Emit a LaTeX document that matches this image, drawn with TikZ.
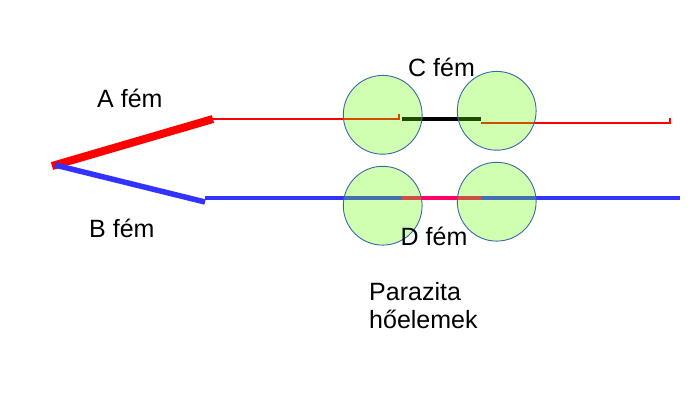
\documentclass[tikz,border=0pt]{standalone}
\usepackage{fontspec}
\setmainfont{Liberation Sans}
\definecolor{wirered}{RGB}{255,0,0}
\definecolor{wireblue}{RGB}{51,51,255}
\definecolor{wirepink}{RGB}{255,0,102}
\definecolor{jointgreen}{RGB}{102,255,0}
\definecolor{jointedge}{RGB}{56,104,170}
\tikzset{
  joint/.style={fill=jointgreen, fill opacity=0.3, draw=jointedge, line width=0.9pt},
  label/.style={font=\fontsize{25}{28}\selectfont, anchor=base west, inner sep=0pt, align=left},
}

\begin{document}
\begin{tikzpicture}[x=1pt, y=-1pt]
  \useasboundingbox (0,0) rectangle (700,400);
  \draw[wirered, line width=8pt] (52,166) -- (213,119);
  \draw[wireblue, line width=5.5pt] (55,165) -- (205,202);
  \draw[wirered, line width=2pt] (213,119) -- (399,119) -- (399,113.5);
  \draw[wirered, line width=2pt] (481,123) -- (670,123) -- (670,117.5);
  \draw[black, line width=4pt] (402,119) -- (481,119);
  \draw[wireblue, line width=4pt] (205,198) -- (402,198);
  \draw[wireblue, line width=4pt] (481,198) -- (680,198);
  \draw[wirepink, line width=4pt] (402,198) -- (481,198);
  \draw[joint] (382.7,114.8) circle (39.4);
  \draw[joint] (496.7,110.8) circle (39.4);
  \draw[joint] (382.7,205.7) circle (39.4);
  \draw[joint] (496.7,201.7) circle (39.4);
  \node[label] (afem) at (97,107) {A fém};
  \node[label] (bfem) at (89,237) {B fém};
  \node[label] (cfem) at (408,76) {C fém};
  \node[label] (dfem) at (400.5,245) {D fém};
  \node[label] (parazita) at (369,328) {Parazita\\hőelemek};
\end{tikzpicture}
\end{document}
